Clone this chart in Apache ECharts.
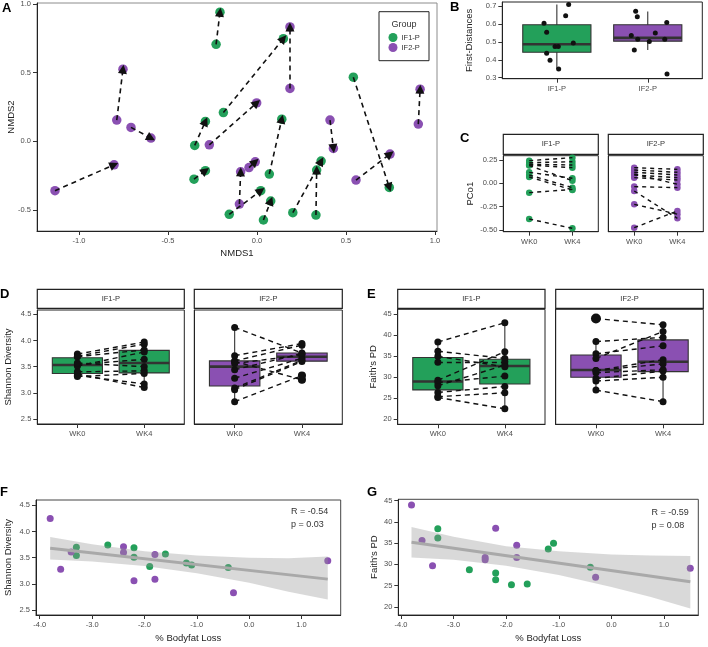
<!DOCTYPE html>
<html>
<head>
<meta charset="utf-8">
<script src="https://cdn.jsdelivr.net/npm/echarts@6.0.0/dist/echarts.min.js"></script>
<style>
  html, body { margin: 0; padding: 0; background: #fff; }
  #chart { width: 708px; height: 647px; }
</style>
</head>
<body>
<div id="chart"></div>
<script>
// ---------- data ----------
const groups = ['IF1-P', 'IF2-P'];
const weeks = ['WK0', 'WK4'];

// A: NMDS scores, item i is the same subject at WK0 and WK4
const nmdsIF1wk0 = [[-0.230, 0.706], [-0.350, -0.029], [-0.354, -0.274], [-0.189, 0.210], [0.069, -0.237],
                    [0.541, 0.467], [-0.156, -0.530], [0.036, -0.571], [0.201, -0.518], [0.331, -0.535]];
const nmdsIF1wk4 = [[-0.208, 0.939], [-0.290, 0.145], [-0.290, -0.213], [0.148, 0.747], [0.139, 0.162],
                    [0.743, -0.334], [0.021, -0.358], [0.077, -0.433], [0.360, -0.143], [0.335, -0.208]];
const nmdsIF2wk0 = [[-0.788, 0.155], [-0.708, 0.102], [-1.135, -0.358], [0.185, 0.385], [-0.268, -0.025],
                    [0.906, 0.126], [0.410, 0.155], [0.556, -0.281], [-0.099, -0.455], [-0.045, -0.190]];
const nmdsIF2wk4 = [[-0.753, 0.525], [-0.596, 0.024], [-0.803, -0.170], [0.185, 0.832], [-0.002, 0.280],
                    [0.916, 0.380], [0.429, -0.051], [0.747, -0.092], [-0.092, -0.221], [-0.010, -0.148]];

// B: first distances (value + jittered x)
const distIF1 = [0.604, 0.554, 0.437, 0.398, 0.474, 0.474, 0.349, 0.645, 0.708, 0.493];
const distIF1jit = [0.859, 0.888, 0.888, 0.925, 0.980, 1.016, 1.020, 1.097, 1.130, 1.181];
const distIF2 = [0.671, 0.640, 0.535, 0.515, 0.455, 0.502, 0.549, 0.608, 0.515, 0.321];
const distIF2jit = [1.867, 1.885, 1.819, 1.890, 1.852, 2.017, 2.083, 2.209, 2.187, 2.212];
const distBox = [[0.347, 0.442, 0.487, 0.595, 0.708], [0.455, 0.504, 0.522, 0.595, 0.669]];

// C: PCo1
const pcoIF1wk0 = [0.243, 0.221, 0.205, 0.196, 0.190, 0.118, 0.089, 0.068, -0.100, -0.382];
const pcoIF1wk4 = [0.275, 0.232, 0.196, 0.168, 0.029, 0.054, -0.046, -0.071, -0.065, -0.482];
const pcoIF2wk0 = [0.168, 0.143, 0.118, 0.089, 0.061, 0.100, -0.035, -0.082, -0.225, -0.475];
const pcoIF2wk4 = [0.150, 0.118, 0.089, 0.061, 0.036, -0.010, -0.046, -0.375, -0.330, -0.296];

// D / F: Shannon diversity
const shannonIF1wk0 = [3.70, 3.54, 3.74, 3.69, 3.51, 3.33, 3.57, 3.40, 3.36, 3.31];
const shannonIF1wk4 = [3.93, 3.64, 3.97, 3.82, 3.78, 3.17, 3.50, 3.42, 3.10, 3.37];
const shannonIF2wk0 = [4.25, 3.28, 3.61, 3.71, 3.60, 3.06, 3.56, 3.09, 2.83, 3.44];
const shannonIF2wk4 = [3.76, 3.66, 3.91, 3.94, 3.25, 3.60, 3.72, 3.62, 3.33, 3.75];
// box stats per week: [lower whisker, q1, median, q3, upper whisker]
const shannonBoxIF1 = [[3.31, 3.37, 3.53, 3.67, 3.74], [3.10, 3.38, 3.57, 3.81, 3.97]];
const shannonBoxIF2 = [[2.83, 3.13, 3.50, 3.61, 4.25], [3.60, 3.605, 3.69, 3.76, 3.94]];

// E / G: Faith's PD
const faithIF1wk0 = [38.4, 36.2, 28.75, 28.0, 26.4, 25.2, 25.4, 33.6, 35.0, 29.3];
const faithIF1wk4 = [43.0, 34.5, 30.3, 32.9, 27.8, 22.5, 26.3, 33.7, 32.5, 36.1];
const faithIF2wk0 = [43.98, 35.6, 29.7, 31.6, 31.1, 38.5, 34.5, 31.6, 26.95, 29.1];
const faithIF2wk4 = [42.5, 37.5, 31.5, 34.2, 31.8, 39.5, 40.9, 33.2, 24.2, 30.0];
const faithBoxIF1 = [[25.2, 27.0, 29.0, 34.7, 38.4], [22.5, 28.4, 32.7, 34.3, 43.0]];
const faithBoxIF2 = [[26.95, 30.0, 31.75, 35.3, 38.5], [24.2, 31.35, 33.7, 38.9, 42.6]];

// F / G: % bodyfat loss per subject
const fatLossIF1 = [-3.30, -3.30, -2.70, -2.20, -2.20, -1.90, -1.60, -1.20, -1.10, -0.40];
const fatLossIF2 = [-3.80, -3.60, -3.40, -2.40, -2.40, -2.20, -1.80, -1.80, -0.30, 1.50];

// regression line + confidence band
const fitLineX = [-3.8, 1.5];
const shannonFitY = [3.68, 3.09];
const faithFitY = [35.2, 25.9];
const fitBandX = [-3.8, -3.0, -2.0, -1.0, 0.0, 0.75, 1.5];
const shannonBandLo = [3.465, 3.425, 3.34, 3.20, 3.02, 2.85, 2.70];
const shannonBandHi = [3.895, 3.755, 3.62, 3.54, 3.50, 3.49, 3.52];
const faithBandLo = [31.6, 31.1, 29.7, 27.5, 24.7, 22.3, 19.6];
const faithBandHi = [38.8, 36.5, 34.3, 33.1, 32.3, 32.1, 32.0];
const shannonStats = ['R = -0.54', 'p = 0.03'];
const faithStats = ['R = -0.59', 'p = 0.08'];

// ---------- styling ----------
const GREEN = '#23a05a';
const PURPLE = '#8a50b2';
const FONT = 'Liberation Sans';
const TICK = '#4d4d4d';

const grids = [
  { left: 37, top: 3, width: 400, height: 228, border: '#8c8c8c' },        // A
  { left: 502.3, top: 2, width: 200, height: 76.7, border: '#222' },       // B
  { left: 503.3, top: 155.7, width: 95, height: 76, border: '#222' },      // C IF1
  { left: 608.3, top: 155.7, width: 95, height: 76, border: '#222' },      // C IF2
  { left: 37.3, top: 310, width: 147, height: 114, border: '#222' },       // D IF1
  { left: 194.3, top: 310, width: 148, height: 114, border: '#222' },      // D IF2
  { left: 397.7, top: 309.3, width: 147.3, height: 115, border: '#222' },  // E IF1
  { left: 555.7, top: 309.3, width: 147.6, height: 115, border: '#222' },  // E IF2
  { left: 36, top: 500, width: 304.7, height: 115, border: '#444' },       // F
  { left: 398.3, top: 499.3, width: 300, height: 115.7, border: '#444' }   // G
];

function axis(g, min, max, ticks, fmt, extra) {
  return Object.assign({
    type: 'value', gridIndex: g, min: min, max: max,
    axisLine: { show: true, onZero: false, lineStyle: { color: '#222', width: 1 } },
    axisTick: { show: true, length: 4, customValues: ticks, lineStyle: { color: '#333' } },
    axisLabel: { show: true, customValues: ticks, formatter: fmt, color: TICK, fontSize: 7.5, fontFamily: FONT, margin: 6 },
    splitLine: { show: false },
    nameLocation: 'middle',
    nameTextStyle: { color: '#222', fontSize: 9.5, fontFamily: FONT }
  }, extra || {});
}
const noLabels = { axisLabel: { show: false }, axisTick: { show: false } };
const f1 = v => v.toFixed(1);
const f2 = v => v.toFixed(2);
const wkFmt = v => weeks[Math.round(v) - 1];
const grpFmt = v => groups[Math.round(v) - 1];

const xAxes = [
  axis(0, -1.236, 1.011, [-1, -0.5, 0, 0.5, 1], f1, { name: 'NMDS1', nameGap: 17 }),
  axis(1, 0.4, 2.6, [1, 2], grpFmt),
  axis(2, 0.4, 2.6, [1, 2], wkFmt),
  axis(3, 0.4, 2.6, [1, 2], wkFmt),
  axis(4, 0.4, 2.6, [1, 2], wkFmt),
  axis(5, 0.4, 2.6, [1, 2], wkFmt),
  axis(6, 0.4, 2.6, [1, 2], wkFmt),
  axis(7, 0.4, 2.6, [1, 2], wkFmt),
  axis(8, -4.071, 1.747, [-4, -3, -2, -1, 0, 1], f1, { name: '% Bodyfat Loss', nameGap: 18 }),
  axis(9, -4.051, 1.652, [-4, -3, -2, -1, 0, 1], f1, { name: '% Bodyfat Loss', nameGap: 18 })
];
const yAxes = [
  axis(0, -0.651, 1.006, [-0.5, 0, 0.5, 1], f1, { name: 'NMDS2', nameGap: 21, nameMoveOverlap: false }),
  axis(1, 0.2944, 0.7223, [0.3, 0.4, 0.5, 0.6, 0.7], f1, { name: 'First-Distances', nameGap: 28 }),
  axis(2, -0.518, 0.296, [-0.5, -0.25, 0, 0.25], f2, { name: 'PCo1', nameGap: 28 }),
  axis(3, -0.518, 0.296, [-0.5, -0.25, 0, 0.25], f2, noLabels),
  axis(4, 2.404, 4.582, [2.5, 3, 3.5, 4, 4.5], f1, { name: 'Shannon Diversity', nameGap: 24 }),
  axis(5, 2.404, 4.582, [2.5, 3, 3.5, 4, 4.5], f1, noLabels),
  axis(6, 18.81, 46.19, [20, 25, 30, 35, 40, 45], v => String(v), { name: "Faith's PD", nameGap: 19 }),
  axis(7, 18.81, 46.19, [20, 25, 30, 35, 40, 45], v => String(v), noLabels),
  axis(8, 2.405, 4.601, [2.5, 3, 3.5, 4, 4.5], f1, { name: 'Shannon Diversity', nameGap: 23 }),
  axis(9, 18.08, 45.33, [20, 25, 30, 35, 40, 45], v => String(v), { name: "Faith's PD", nameGap: 19 })
];

// ---------- series builders ----------
function scatter(g, data, color, size, z, name) {
  return { type: 'scatter', name: name, xAxisIndex: g, yAxisIndex: g, data: data, symbolSize: size,
    itemStyle: { color: color, opacity: 1 }, z: z || 3, silent: true };
}
function segments(g, from, to, width, dash, arrow) {
  return { type: 'lines', coordinateSystem: 'cartesian2d', xAxisIndex: g, yAxisIndex: g,
    data: from.map((p, i) => ({ coords: [p, to[i]] })),
    symbol: arrow ? ['none', 'triangle'] : ['none', 'none'], symbolSize: arrow ? [8, 9] : 0,
    lineStyle: { color: '#111', width: width, type: dash, opacity: 1 }, z: 4, silent: true };
}
function pairLines(g, wk0, wk4, dash) {
  return segments(g, wk0.map(v => [1, v]), wk4.map(v => [2, v]), 1.4, dash, false);
}
function boxes(g, stats, colors, width) {
  return { type: 'custom', xAxisIndex: g, yAxisIndex: g, z: 2, silent: true,
    data: stats.map((s, i) => [i + 1].concat(s)),
    encode: { x: 0, y: [1, 2, 3, 4, 5] },
    renderItem: function (params, api) {
      const x = api.value(0);
      const w = api.size([width, 0])[0];
      const lo = api.coord([x, api.value(1)]);
      const q1 = api.coord([x, api.value(2)]);
      const md = api.coord([x, api.value(3)]);
      const q3 = api.coord([x, api.value(4)]);
      const hi = api.coord([x, api.value(5)]);
      return { type: 'group', children: [
        { type: 'line', shape: { x1: lo[0], y1: lo[1], x2: hi[0], y2: hi[1] }, style: { stroke: '#333', lineWidth: 1.1 } },
        { type: 'rect', shape: { x: q1[0] - w / 2, y: q3[1], width: w, height: q1[1] - q3[1] },
          style: { fill: colors[params.dataIndex], stroke: '#333', lineWidth: 1.1 } },
        { type: 'line', shape: { x1: q1[0] - w / 2, y1: md[1], x2: q1[0] + w / 2, y2: md[1] },
          style: { stroke: '#333', lineWidth: 2.6 } }
      ] };
    }
  };
}
function band(g, xs, lo, hi) {
  return { type: 'custom', xAxisIndex: g, yAxisIndex: g, z: 4, silent: true,
    data: xs.map((x, i) => [x, lo[i], hi[i]]),
    encode: { x: 0, y: [1, 2] },
    renderItem: function (params, api) {
      if (params.dataIndex !== 0) return null;
      const top = xs.map((x, i) => api.coord([x, hi[i]]));
      const bot = xs.map((x, i) => api.coord([x, lo[i]])).reverse();
      return { type: 'polygon', shape: { points: top.concat(bot) }, style: { fill: 'rgba(150,150,150,0.36)' } };
    }
  };
}
function fitLine(g, ys) {
  return { type: 'line', xAxisIndex: g, yAxisIndex: g, data: fitLineX.map((x, i) => [x, ys[i]]),
    symbol: 'none', lineStyle: { color: '#a9a9a9', width: 3 }, z: 5, silent: true };
}
function outliers(vals, stat) {
  return vals.filter(v => v < stat[0] || v > stat[4]);
}
function wkPoints(wk0, wk4) {
  return wk0.map(v => [1, v]).concat(wk4.map(v => [2, v]));
}

const series = [];
// A
series.push(scatter(0, nmdsIF1wk0.concat(nmdsIF1wk4), GREEN, 9.5, 3, 'IF1-P'));
series.push(scatter(0, nmdsIF2wk0.concat(nmdsIF2wk4), PURPLE, 9.5, 3, 'IF2-P'));
series.push(segments(0, nmdsIF1wk0, nmdsIF1wk4, 1.6, [5, 4], true));
series.push(segments(0, nmdsIF2wk0, nmdsIF2wk4, 1.6, [5, 4], true));
// B
series.push(boxes(1, distBox, [GREEN, PURPLE], 0.75));
series.push(scatter(1, distIF1.map((v, i) => [distIF1jit[i], v]), '#111', 5));
series.push(scatter(1, distIF2.map((v, i) => [distIF2jit[i], v]), '#111', 5));
// C
series.push(pairLines(2, pcoIF1wk0, pcoIF1wk4, [4, 4]));
series.push(scatter(2, wkPoints(pcoIF1wk0, pcoIF1wk4), GREEN, 6.5));
series.push(pairLines(3, pcoIF2wk0, pcoIF2wk4, [4, 4]));
series.push(scatter(3, wkPoints(pcoIF2wk0, pcoIF2wk4), PURPLE, 6.5));
// D
series.push(boxes(4, shannonBoxIF1, [GREEN, GREEN], 0.75));
series.push(pairLines(4, shannonIF1wk0, shannonIF1wk4, [5, 4]));
series.push(scatter(4, wkPoints(shannonIF1wk0, shannonIF1wk4), '#111', 7, 5));
series.push(boxes(5, shannonBoxIF2, [PURPLE, PURPLE], 0.75));
series.push(pairLines(5, shannonIF2wk0, shannonIF2wk4, [5, 4]));
series.push(scatter(5, wkPoints(shannonIF2wk0, shannonIF2wk4), '#111', 7, 5));
series.push(scatter(5, outliers(shannonIF2wk4, shannonBoxIF2[1]).map(v => [2, v]), '#111', 8, 5));
// E
series.push(boxes(6, faithBoxIF1, [GREEN, GREEN], 0.75));
series.push(pairLines(6, faithIF1wk0, faithIF1wk4, [5, 4]));
series.push(scatter(6, wkPoints(faithIF1wk0, faithIF1wk4), '#111', 7, 5));
series.push(boxes(7, faithBoxIF2, [PURPLE, PURPLE], 0.75));
series.push(pairLines(7, faithIF2wk0, faithIF2wk4, [5, 4]));
series.push(scatter(7, wkPoints(faithIF2wk0, faithIF2wk4), '#111', 7, 5));
series.push(scatter(7, outliers(faithIF2wk0, faithBoxIF2[0]).map(v => [1, v]), '#111', 10, 5));
// F
series.push(scatter(8, fatLossIF1.map((x, i) => [x, shannonIF1wk0[i]]), GREEN, 7));
series.push(scatter(8, fatLossIF2.map((x, i) => [x, shannonIF2wk0[i]]), PURPLE, 7));
series.push(band(8, fitBandX, shannonBandLo, shannonBandHi));
series.push(fitLine(8, shannonFitY));
// G
series.push(scatter(9, fatLossIF1.map((x, i) => [x, faithIF1wk0[i]]), GREEN, 7));
series.push(scatter(9, fatLossIF2.map((x, i) => [x, faithIF2wk0[i]]), PURPLE, 7));
series.push(band(9, fitBandX, faithBandLo, faithBandHi));
series.push(fitLine(9, faithFitY));

// ---------- decorations: panel letters, facet strips, legend box, stats ----------
const graphic = [];
const letters = [['A', 2, 2], ['B', 450, 1], ['C', 460, 132], ['D', 0, 288], ['E', 367, 288], ['F', 0, 486], ['G', 367, 486]];
letters.forEach(l => graphic.push({ type: 'text', left: l[1], top: l[2],
  style: { text: l[0], fontSize: 13, fontWeight: 'bold', fontFamily: FONT, fill: '#000' } }));

function strip(x, y, w, h, label) {
  graphic.push({ type: 'rect', shape: { x: x, y: y, width: w, height: h },
    style: { fill: '#fff', stroke: '#222', lineWidth: 1.2 } });
  graphic.push({ type: 'text', x: x + w / 2, y: y + h / 2,
    style: { text: label, fontSize: 7.5, fontFamily: FONT, fill: '#333', align: 'center', verticalAlign: 'middle' } });
}
[2, 3].forEach((g, i) => strip(grids[g].left, 134.3, grids[g].width, 20, groups[i]));
[4, 5].forEach((g, i) => strip(grids[g].left, 289.3, grids[g].width, 19, groups[i]));
[6, 7].forEach((g, i) => strip(grids[g].left, 289.3, grids[g].width, 19, groups[i]));

graphic.push({ type: 'rect', shape: { x: 379, y: 11.7, width: 50, height: 49 },
  style: { fill: '#fff', stroke: '#222', lineWidth: 1 }, z: 1 });
graphic.push({ type: 'text', x: 404, y: 25, z: 2,
  style: { text: 'Group', fontSize: 9, fontFamily: FONT, fill: '#333', align: 'center', verticalAlign: 'middle' } });

function statText(x, y, lines) {
  graphic.push({ type: 'text', x: x, y: y,
    style: { text: lines.join('\n'), fontSize: 9, lineHeight: 13, fontFamily: FONT, fill: '#333' } });
}
statText(291, 505, shannonStats);
statText(651.5, 506.5, faithStats);

const chart = echarts.init(document.getElementById('chart'));
chart.setOption({
  animation: false,
  backgroundColor: '#fff',
  grid: grids.map(g => ({ left: g.left, top: g.top, width: g.width, height: g.height, show: true,
    borderColor: g.border, borderWidth: 1, backgroundColor: 'transparent', outerBoundsMode: 'none' })),
  xAxis: xAxes,
  yAxis: yAxes,
  legend: {
    data: groups, orient: 'vertical', left: 388.5, top: 33, padding: 0, itemGap: 1,
    itemWidth: 9, itemHeight: 9, icon: 'circle', selectedMode: false, z: 5,
    textStyle: { fontSize: 7.5, fontFamily: FONT, color: '#333', padding: [0, 0, 0, -1] }
  },
  graphic: graphic,
  series: series
});
</script>
</body>
</html>
